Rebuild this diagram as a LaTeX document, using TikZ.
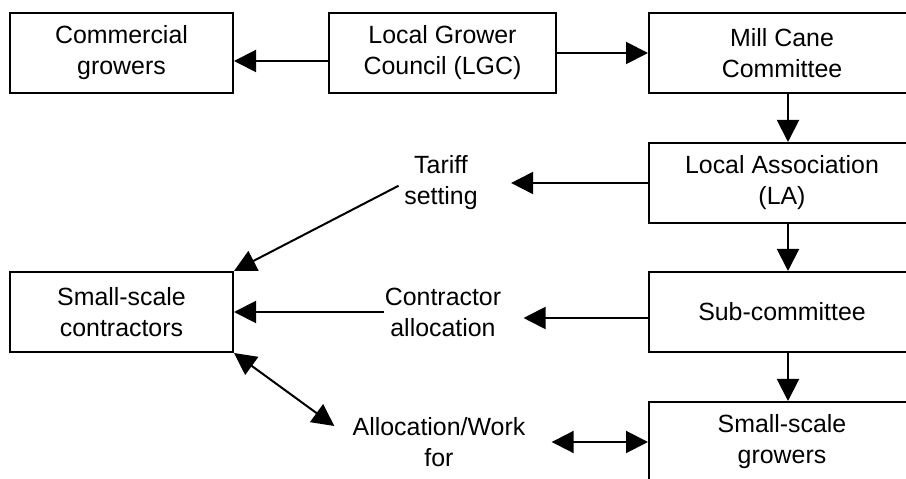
\documentclass[tikz,border=0pt]{standalone}
\usepackage{fontspec}
\setmainfont{Liberation Sans}
\usepackage{tikz}
\usetikzlibrary{arrows.meta, positioning}
\tikzstyle{basefont}=[font=\fontsize{12.5}{15.5}\selectfont]
\tikzstyle{box}=[basefont, draw, line width=1bp, align=center, inner sep=0pt, minimum width=112bp, minimum height=40bp]
\tikzstyle{widebox}=[box, minimum width=133bp]
\tikzstyle{label}=[basefont, align=center, inner sep=0pt]
\tikzstyle{arrow}=[line width=1bp, -{Triangle[length=11bp, width=11bp]}]
\tikzstyle{twoway}=[arrow, {Triangle[length=11bp, width=11bp]}-{Triangle[length=11bp, width=11bp]}]

\begin{document}
\begin{tikzpicture}[x=0.5bp, y=-0.5bp]
        % Fix the page and cut off the right hand column
        \useasboundingbox (0,0) rectangle (906,479);
        \clip (0,0) rectangle (906,479);

        % Top row
        \node[box, minimum width=111.5bp] (commercial) at (121.5,53) {Commercial\\growers};
        \node[box, minimum width=113.5bp] (lgc) at (442.5,53) {Local Grower\\Council (LGC)};
        \node[widebox] (mill) at (782,53) {Mill Cane\\Committee};

        % Right hand column
        \node[widebox] (la) at (782,183) {Local Association\\(LA)};
        \node[widebox] (sub) at (782,312) {Sub-committee};
        \node[widebox] (growers) at (782,442) {Small-scale\\growers};

        % Contractors and the things passed to them
        \node[box, minimum width=111.5bp] (contractors) at (121.5,312) {Small-scale\\contractors};
        \node[label] (tariff) at (441,183) {Tariff\\setting};
        \node[label] (allocation) at (443,312) {Contractor\\allocation};
        \node[label] (work) at (439,442) {Allocation/Work\\for};

        \draw[arrow] ([yshift=-4bp]lgc.west) -- ([yshift=-4bp]commercial.east);
        \draw[arrow] (lgc.east) -- (mill.west);

        % Down the right hand column
        \foreach \from/\to in {mill/la, la/sub, sub/growers}{
            \draw[arrow] ([xshift=3bp]\from.south) -- ([xshift=3bp]\to.north);
        }

        \draw[arrow, shorten >=16.5bp] (la.west) -- (tariff.east);
        \draw[arrow, shorten <=3bp] (tariff.west) -- (contractors.north east);
        \draw[arrow, shorten >=11bp] ([yshift=-3bp]sub.west) -- ([yshift=-3bp]allocation.east);
        \draw[arrow] (allocation.west) -- (allocation.west -| contractors.east);
        \draw[twoway, shorten <=13bp] (work.east) -- (growers.west);
        \draw[twoway] (contractors.south east) -- ([shift={(-18,9)}]work.north west);
\end{tikzpicture}
\end{document}
